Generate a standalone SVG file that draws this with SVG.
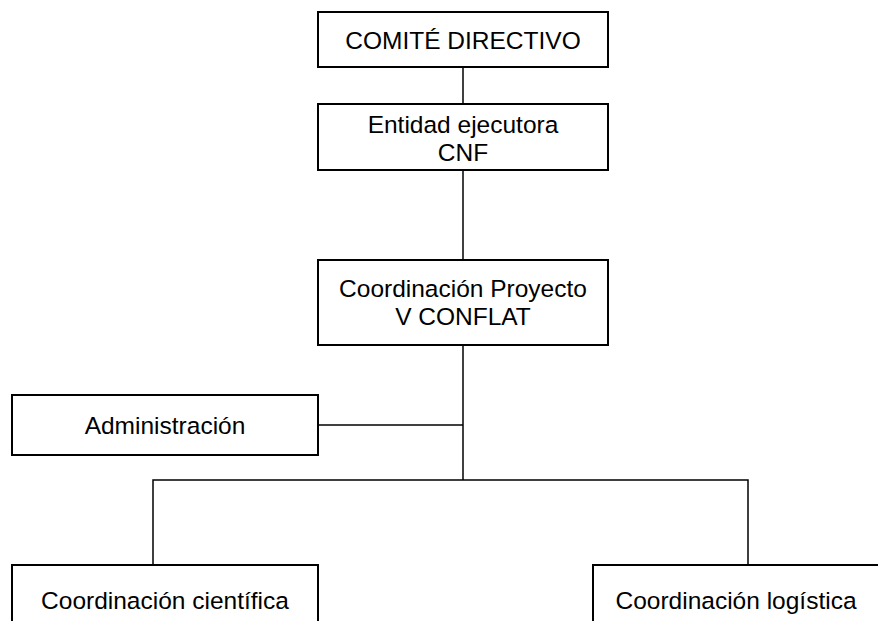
<svg xmlns="http://www.w3.org/2000/svg" width="878" height="621" viewBox="0 0 878 621">
<style>
.box{fill:#fff;stroke:#000;stroke-width:2}
.t{font-family:"Liberation Sans",Arial,sans-serif;font-size:24.5px;fill:#000;text-anchor:middle}
.c{stroke:#000;stroke-width:1.5;fill:none}
</style>
<rect width="878" height="621" fill="#fff"/>
<g id="connectors">
<line class="c" x1="463" y1="67" x2="463" y2="104"/>
<line class="c" x1="463" y1="170" x2="463" y2="260"/>
<line class="c" x1="463" y1="345" x2="463" y2="480"/>
<line class="c" x1="318" y1="425" x2="463" y2="425"/>
<polyline class="c" points="153,565 153,480 748,480 748,565"/>
</g>
<g id="comite"><rect class="box" x="318" y="12" width="290" height="55"/><text class="t" x="463" y="49">COMITÉ DIRECTIVO</text></g>
<g id="entidad"><rect class="box" x="318" y="104" width="290" height="66"/><text class="t" x="463" y="133">Entidad ejecutora</text><text class="t" x="463" y="161">CNF</text></g>
<g id="coordinacion"><rect class="box" x="318" y="260" width="290" height="85"/><text class="t" x="463" y="297">Coordinación Proyecto</text><text class="t" x="463" y="325">V CONFLAT</text></g>
<g id="administracion"><rect class="box" x="12" y="395" width="306" height="60"/><text class="t" x="165" y="434">Administración</text></g>
<g id="cientifica"><rect class="box" x="12" y="565" width="306" height="70"/><text class="t" x="165" y="609">Coordinación científica</text></g>
<g id="logistica"><rect class="box" x="593" y="565" width="300" height="70"/><text class="t" x="736" y="609">Coordinación logística</text></g>
</svg>
